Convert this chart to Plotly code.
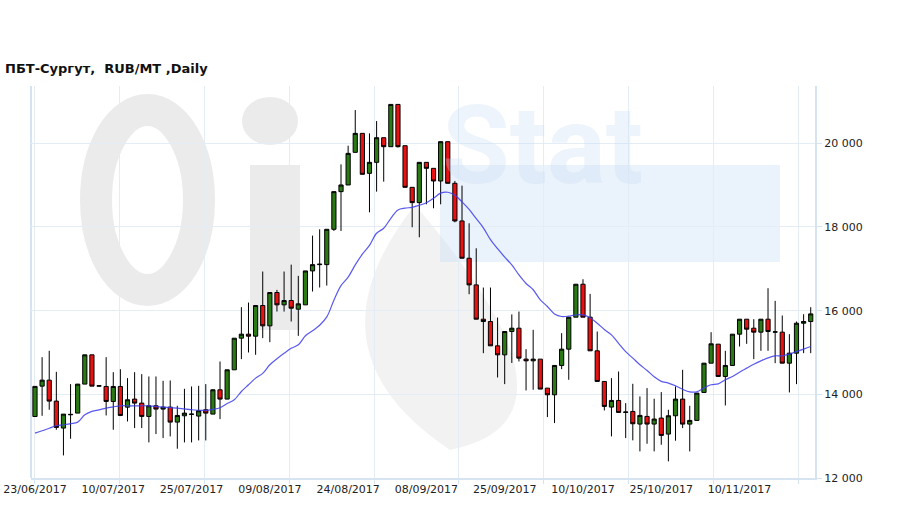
import plotly.graph_objects as go

# --- data (one candle per trading day) ---
DATE_LABELS = ["23/06/2017", "10/07/2017", "25/07/2017", "09/08/2017", "24/08/2017",
               "08/09/2017", "25/09/2017", "10/10/2017", "25/10/2017", "10/11/2017"]

OPEN = [13470, 14196, 14339, 13838, 13193, 13511, 13551, 14244, 14944, 14196,
        14188, 13830, 14188, 13694, 13886, 13790, 13472, 13726, 13647, 13694,
        13336, 13487, 13519, 13480, 13631, 13527, 14108, 13886, 14586, 15343,
        15438, 15390, 16123, 15637, 16433, 16139, 16242, 16035, 16139, 16950,
        17100, 17100, 17945, 18845, 19004, 19784, 20238, 19282, 19545, 20134,
        19919, 20930, 19943, 18948, 18582, 19545, 19402, 19099, 20039, 19044,
        18144, 17253, 16616, 15796, 15740, 15159, 14944, 15502, 15581, 14841,
        14801, 14841, 14148, 13989, 14690, 15080, 15844, 16632, 15844, 15040,
        14308, 13695, 13854, 13567, 13591, 13289, 13472, 13289, 13432, 13050,
        13488, 13886, 13288, 13376, 14045, 14745, 15199, 14427, 14690, 15438,
        15796, 15581, 15486, 15796, 15486, 15486, 14745, 14984, 15700, 15740]
HIGH = [14190, 14888, 15040, 14538, 13527, 14244, 14244, 14944, 14944, 14210,
        14888, 14530, 14600, 14387, 14530, 14483, 14427, 14427, 14323, 14331,
        13726, 14132, 14188, 14204, 14244, 14120, 14785, 14586, 15342, 16083,
        16194, 16123, 16935, 16433, 16497, 16935, 17100, 16831, 16950, 17794,
        17945, 17945, 18845, 19497, 19943, 20795, 20238, 20238, 20532, 20134,
        20930, 20930, 19943, 18948, 19545, 19545, 19402, 20039, 20039, 19100,
        18988, 18088, 17491, 16552, 16552, 15836, 15502, 15910, 15979, 15080,
        15541, 14841, 14148, 14690, 15462, 15844, 16632, 16751, 16401, 15502,
        14308, 14387, 14546, 13790, 14252, 13950, 14149, 13894, 14053, 13631,
        14188, 14586, 13726, 14029, 14745, 15486, 15199, 15040, 15438, 15796,
        15796, 15796, 15796, 16536, 16234, 15884, 15438, 15740, 15915, 16083]
LOW = [13470, 13487, 13631, 13153, 12540, 12938, 13551, 14244, 14196, 14190,
       13495, 13153, 13480, 13352, 13193, 13193, 12851, 13050, 12954, 12994,
       12700, 12851, 12851, 12898, 12898, 13527, 13408, 13886, 14586, 14841,
       15000, 14945, 15343, 15247, 15979, 15979, 15741, 15398, 16139, 16457,
       16553, 16600, 17905, 17905, 19004, 19784, 19259, 18351, 18845, 19084,
       19919, 19900, 18948, 17993, 17754, 18542, 18447, 18542, 19044, 18112,
       17253, 16393, 15796, 14984, 15159, 14403, 14244, 14750, 14785, 14093,
       14109, 14125, 13456, 13313, 14602, 14347, 15844, 15844, 15040, 14308,
       13615, 12994, 13567, 12954, 12900, 12636, 12819, 12636, 12795, 12397,
       12891, 13193, 12636, 13376, 14045, 14745, 14427, 13734, 14690, 15143,
       15207, 14841, 15040, 15040, 14745, 14745, 14045, 14244, 14984, 14984]
CLOSE = [14190, 14339, 13838, 13209, 13527, 13520, 14244, 14944, 14196, 14204,
         13830, 14188, 13495, 13870, 13790, 13472, 13726, 13647, 13694, 13336,
         13495, 13551, 13527, 13607, 13551, 14108, 13886, 14586, 15342, 15438,
         15390, 16123, 15637, 16433, 16139, 16242, 16059, 16163, 16950, 17100,
         17110, 17945, 18845, 19004, 19760, 20238, 19259, 19545, 20134, 19919,
         20930, 19919, 18948, 18582, 19545, 19402, 19099, 20039, 19044, 18144,
         17253, 16616, 15796, 15740, 15159, 14944, 15502, 15581, 14865, 14801,
         14841, 14125, 13989, 14690, 15080, 15844, 16632, 15844, 15040, 14308,
         13711, 13854, 13567, 13577, 13297, 13496, 13289, 13409, 13018, 13488,
         13886, 13288, 13376, 14029, 14745, 15207, 14427, 14690, 15438, 15796,
         15557, 15486, 15796, 15501, 15494, 14745, 14984, 15700, 15740, 15923]
# moving average as drawn on the chart
MA = [13074, 13130, 13190, 13249, 13273, 13300, 13336, 13511, 13591, 13630,
      13671, 13700, 13726, 13726, 13726, 13726, 13726, 13710, 13694, 13680,
      13671, 13650, 13631, 13620, 13615, 13640, 13680, 13780, 13870, 14068,
      14228, 14387, 14500, 14706, 14850, 14980, 15100, 15184, 15400, 15520,
      15650, 15850, 16250, 16600, 16800, 17093, 17350, 17560, 17850, 17969,
      18208, 18407, 18450, 18470, 18520, 18580, 18686, 18810, 18830, 18760,
      18600, 18420, 18200, 17980, 17700, 17480, 17280, 17094, 16855, 16650,
      16500, 16258, 16099, 15923, 15860, 15870, 15900, 15900, 15830, 15700,
      15550, 15420, 15220, 15020, 14865, 14706, 14570, 14420, 14310, 14268,
      14204, 14120, 14060, 14060, 14150, 14228, 14250, 14350, 14427, 14530,
      14626, 14720, 14800, 14870, 14920, 14920, 14960, 15024, 15080, 15143]

LABEL_STEP = 11        # a date label every 11 trading days
GRID_STEP = 11.915     # vertical grid spacing used by the source chart

idx = list(range(len(OPEN)))
FONT = "DejaVu Sans"
GRID = "#e4edf6"
EDGE = "#d6e4f1"

# plot area in pixels: left 31, right 815, top 86, bottom 478
PL, PR, PT, PB = 31, 815, 86, 478


def px_x(p):
    return (p - PL) / float(PR - PL)


def px_y(p):
    return (PB - p) / float(PB - PT)


fig = go.Figure()

fig.add_trace(go.Candlestick(
    x=idx, open=OPEN, high=HIGH, low=LOW, close=CLOSE,
    increasing=dict(fillcolor="#2a7a14", line=dict(color="black", width=1)),
    decreasing=dict(fillcolor="#ec1111", line=dict(color="black", width=1)),
    whiskerwidth=0, showlegend=False, hoverinfo="skip",
))
fig.add_trace(go.Scatter(
    x=idx, y=MA, mode="lines", showlegend=False, hoverinfo="skip",
    line=dict(color="rgba(60,60,235,0.85)", width=1.2, shape="spline"),
))

# --- faint "OilStat" watermark behind the plot ---
wm_gray = "rgba(200,200,200,0.36)"
wm_blue = "rgba(205,225,245,0.42)"
shapes = [
    dict(type="circle", xref="paper", yref="paper", layer="below",
         x0=px_x(96), x1=px_x(199), y0=px_y(290), y1=px_y(110),
         line=dict(color=wm_gray, width=32)),
    dict(type="rect", xref="paper", yref="paper", layer="below",
         x0=px_x(250), x1=px_x(300), y0=px_y(330), y1=px_y(165),
         fillcolor=wm_gray, line=dict(width=0)),
    dict(type="circle", xref="paper", yref="paper", layer="below",
         x0=px_x(242), x1=px_x(298), y0=px_y(145), y1=px_y(97),
         fillcolor=wm_gray, line=dict(width=0)),
    dict(type="path", xref="paper", yref="paper", layer="below",
         path=("M {a},{b} Q {c},{d} {e},{f} Q {g},{h} {i},{j} Z").format(
             a=px_x(415), b=px_y(205), c=px_x(300), d=px_y(350),
             e=px_x(450), f=px_y(450), g=px_x(600), h=px_y(420),
             i=px_x(415), j=px_y(205)),
         fillcolor="rgba(205,205,205,0.26)", line=dict(width=0)),
    dict(type="rect", xref="paper", yref="paper", layer="below",
         x0=px_x(440), x1=px_x(780), y0=px_y(262), y1=px_y(165),
         fillcolor=wm_blue, line=dict(width=0)),
]

annotations = [
    dict(text="<b>Stat</b>", xref="paper", yref="paper", x=px_x(440), y=px_y(145),
         xanchor="left", yanchor="middle", showarrow=False,
         font=dict(family="Roboto", size=110, color="rgba(200,222,244,0.32)")),
    dict(text="<b>ПБТ-Сургут,\u00a0 RUB/MT ,Daily</b>", xref="paper", yref="paper",
         x=px_x(3), y=px_y(68), xanchor="left", yanchor="middle", showarrow=False,
         font=dict(family=FONT, size=13, color="#111111")),
]

fig.update_layout(
    width=909, height=509,
    margin=dict(l=PL, r=909 - PR, t=PT, b=509 - PB, autoexpand=False),
    paper_bgcolor="white", plot_bgcolor="white",
    separators=". ",
    font=dict(family=FONT, size=11, color="#222222"),
    shapes=shapes, annotations=annotations,
    boxgap=0.16,
)

fig.update_xaxes(
    range=[-0.56, 109.6], rangeslider_visible=False, automargin=False,
    tickmode="array", tickvals=idx[::LABEL_STEP], ticktext=DATE_LABELS,
    showgrid=False, ticks="", tickfont=dict(size=11, color="#222222"),
    showline=True, linecolor=EDGE, linewidth=2, mirror=False, zeroline=False,
    minor=dict(tick0=0, dtick=GRID_STEP, showgrid=True, gridcolor=GRID, gridwidth=1,
               ticks="outside", ticklen=4, tickcolor=EDGE),
)
fig.update_yaxes(
    side="right", range=[12000, 21370], automargin=False,
    tickmode="linear", tick0=12000, dtick=2000, tickformat=",d",
    showgrid=True, gridcolor=GRID, gridwidth=1,
    ticks="outside", ticklen=5, tickcolor=EDGE,
    showline=True, linecolor=EDGE, linewidth=2, zeroline=False,
    tickfont=dict(size=11, color="#222222"),
)
# left border of the plot area
fig.add_shape(type="line", xref="paper", yref="paper", x0=0, x1=0, y0=0, y1=1,
              line=dict(color=EDGE, width=2), layer="below")

# the page body has a default 8px margin; drop it so the figure sits at 0,0
fig.write_html("out.html", config={"displayModeBar": False},
               post_script="document.body.style.margin='0px';")
